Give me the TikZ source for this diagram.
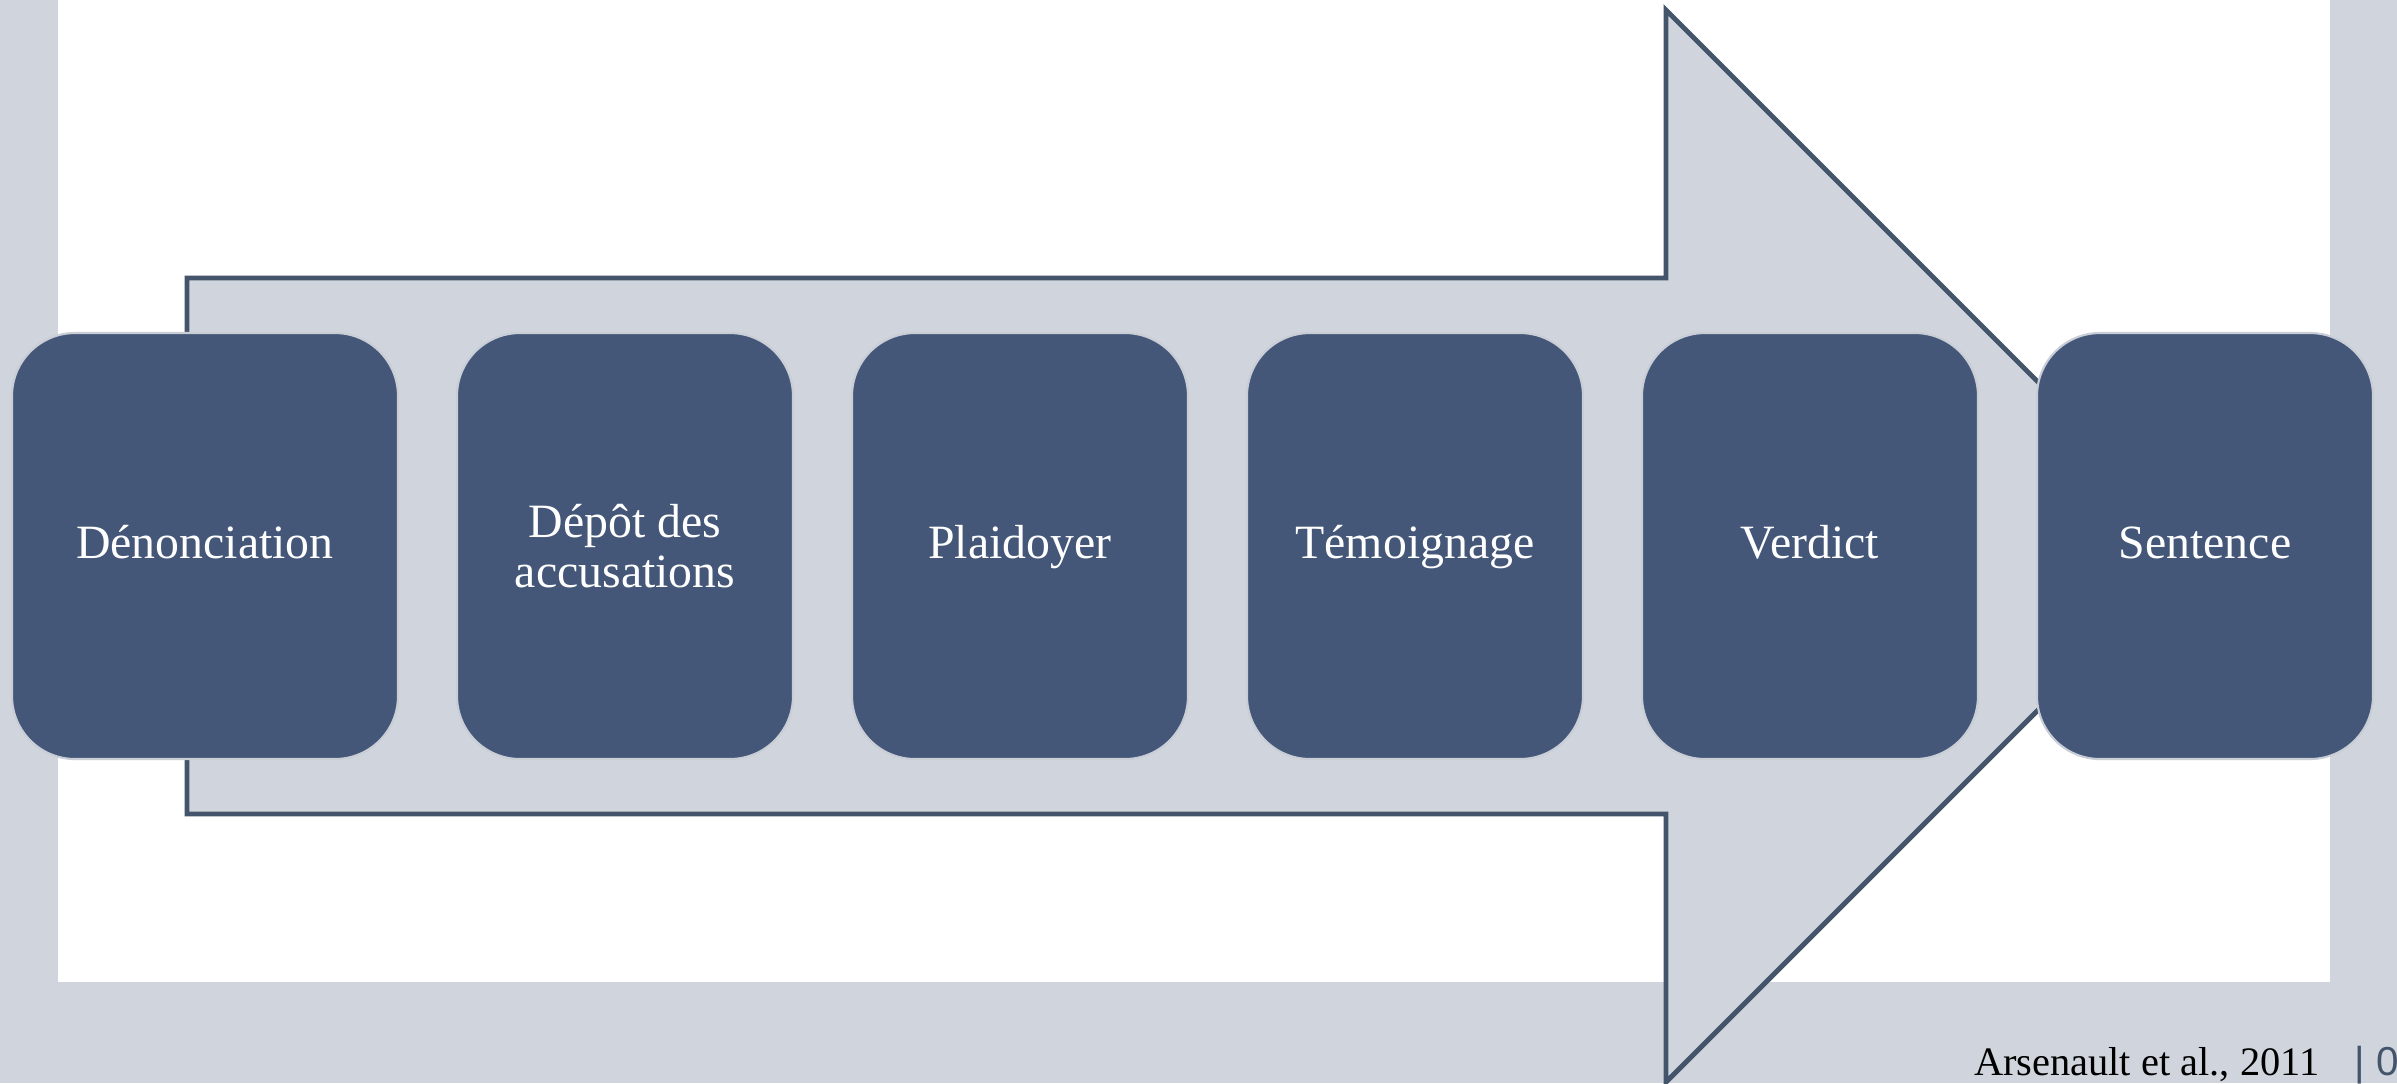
\documentclass[tikz,border=0pt]{standalone}
\usepackage{fontspec}
\setmainfont{Liberation Serif}
\newfontfamily\pagenofont{Liberation Sans}
\usepackage{tikz}
\usetikzlibrary{positioning}
\definecolor{slidegrey}{RGB}{208,213,221}
\definecolor{arrowline}{RGB}{68,84,106}
\definecolor{stepblue}{RGB}{68,87,121}
\definecolor{steprim}{RGB}{200,205,214}

\begin{document}
\begin{tikzpicture}[x=0.1mm,y=-0.1mm,line join=miter,
  stepbox/.style={rectangle,rounded corners=6.3mm,fill=stepblue,draw=steprim,line width=0.6pt,
    minimum width=33.6mm,minimum height=42.6mm,inner sep=0pt,outer sep=0pt,text=white,align=center,
    text height=3.4mm,text depth=1.0mm,font=\fontsize{13.6}{14}\selectfont},
  node distance=5.9mm]
\def\W{2397} \def\H{1083}
% slide background
\useasboundingbox (0,0) rectangle (\W,\H);
\clip (0,0) rectangle (\W,\H);
\fill[slidegrey] (0,0) rectangle (\W,\H);
\fill[white] (58,0) rectangle (2330,982);
% big arrow behind the steps
\draw[arrowline,fill=slidegrey,line width=1.4pt]
  (187,278) -- (1666,278) -- (1666,10) -- (2202,546) -- (1666,1082) -- (1666,814) -- (187,814) -- cycle;
% steps
\node[stepbox,minimum width=38.6mm,anchor=west] (denon) at (12,546) {Dénonciation};
\node[stepbox,right=of denon,text height=,text depth=] (depot) {Dépôt des\\accusations};
\node[stepbox,right=of depot] (plaid) {Plaidoyer};
\node[stepbox,right=of plaid] (temoin) {Témoignage};
\node[stepbox,right=of temoin] (verdict) {Verdict};
\node[stepbox,right=of verdict] (sentence) {Sentence};
% source
\node[anchor=base east,inner sep=0pt,font=\fontsize{11.5}{13}\selectfont] (source) at (2320,1075) {Arsenault et al., 2011};
\node[anchor=base west,inner sep=0pt,text=arrowline,font=\pagenofont\fontsize{11.5}{13}\selectfont] (pageno) at (2354,1075) {| 0};
\end{tikzpicture}
\end{document}
